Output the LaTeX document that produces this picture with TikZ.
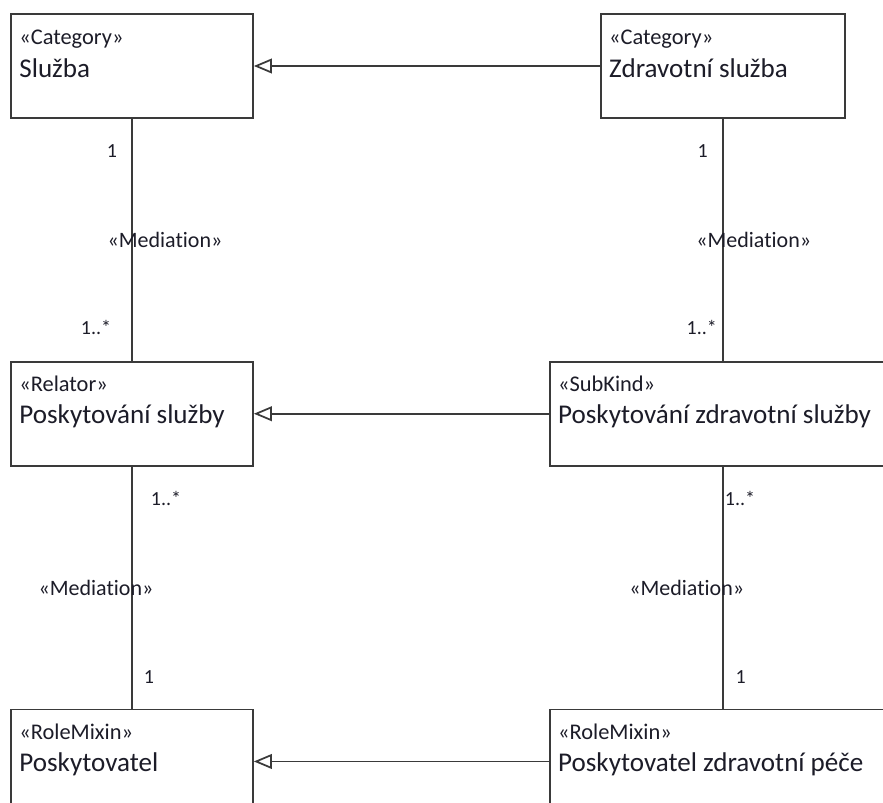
\documentclass[tikz,border=0pt]{standalone}
\usepackage{fontspec}
\setmainfont{Carlito}[Ligatures=NoCommon]
\usetikzlibrary{arrows.meta,positioning,calc}
\definecolor{umlline}{HTML}{3A3A3A}
\definecolor{umltext}{HTML}{1C1C28}
\begin{document}
\begin{tikzpicture}[
 x=0.75pt,y=-0.75pt,
 node distance=181.5pt and 259.5pt,
 cls/.style={draw=umlline,line width=1.3pt,fill=white,minimum width=181.5pt,minimum height=78pt,inner sep=0pt},
 widecls/.style={cls,minimum width=259.5pt},
 stereo/.style={anchor=base west,inner sep=0pt,text=umltext,font=\fontsize{16.8}{19}\selectfont},
 cname/.style={anchor=base west,inner sep=0pt,text=umltext,font=\fontsize{20.3}{24}\selectfont},
 mult/.style={inner sep=0pt,text=umltext,font=\fontsize{15}{18}\selectfont},
 medi/.style={inner sep=0pt,text=umltext,font=\fontsize{16.5}{19}\selectfont},
 assoc/.style={draw=umlline,line width=1.3pt},
 gen/.style={assoc,-{Triangle[open,fill=white,length=13.5pt,width=11pt]}}
]
\useasboundingbox (0,0) rectangle (883,803);
\clip (0,0) rectangle (883,803);
\node[cls] (sluzba) at (132,66) {};
\node[cls,minimum width=183pt,right=of sluzba] (zdrav) {};
\node[cls,below=of sluzba] (posk) {};
\node[widecls,below=of zdrav] (poskzdrav) {};
\node[cls,below=of posk] (poskyt) {};
\node[widecls,below=of poskzdrav] (poskytzdrav) {};
\node[stereo] (sluzbaS) at ($(sluzba.north west)+(9,31)$) {«Category»};
\node[cname] (sluzbaN) at ($(sluzba.north west)+(9,64)$) {Služba};
\node[stereo] (zdravS) at ($(zdrav.north west)+(9,31)$) {«Category»};
\node[cname] (zdravN) at ($(zdrav.north west)+(9,64)$) {Zdravotní služba};
\node[stereo] (poskS) at ($(posk.north west)+(9,31)$) {«Relator»};
\node[cname] (poskN) at ($(posk.north west)+(9,63)$) {Poskytování služby};
\node[stereo] (poskzdravS) at ($(poskzdrav.north west)+(9,31)$) {«SubKind»};
\node[cname] (poskzdravN) at ($(poskzdrav.north west)+(9,63)$) {Poskytování zdravotní služby};
\node[stereo] (poskytS) at ($(poskyt.north west)+(9,31)$) {«RoleMixin»};
\node[cname] (poskytN) at ($(poskyt.north west)+(9,63)$) {Poskytovatel};
\node[stereo] (poskytzdravS) at ($(poskytzdrav.north west)+(9,31)$) {«RoleMixin»};
\node[cname] (poskytzdravN) at ($(poskytzdrav.north west)+(9,63)$) {Poskytovatel zdravotní péče};
\draw[gen] (zdrav)--(sluzba);
\draw[gen] (poskzdrav)--(posk);
\draw[gen] (poskytzdrav)--(poskyt);
\draw[assoc] (sluzba)--node[mult,pos=0.132,anchor=east,xshift=-10.5pt]{1}
 node[medi,pos=0.5,xshift=24.75pt]{«Mediation»}
 node[mult,pos=0.864,anchor=east,xshift=-15pt]{1..*}(posk);
\draw[assoc] (zdrav)--node[mult,pos=0.132,anchor=east,xshift=-10.5pt]{1}
 node[medi,pos=0.5,xshift=23.25pt]{«Mediation»}
 node[mult,pos=0.864,anchor=east,xshift=-3.75pt]{1..*}(poskzdrav);
\draw[assoc] (posk)--node[mult,pos=0.132,anchor=west,xshift=13.5pt]{1..*}
 node[medi,pos=0.5,xshift=-27pt]{«Mediation»}
 node[mult,pos=0.868,anchor=west,xshift=8.25pt]{1}(poskyt);
\draw[assoc] (poskzdrav)--node[mult,pos=0.132,anchor=west,xshift=1pt]{1..*}
 node[medi,pos=0.5,xshift=-27pt]{«Mediation»}
 node[mult,pos=0.868,anchor=west,xshift=9pt]{1}(poskytzdrav);
\end{tikzpicture}
\end{document}
